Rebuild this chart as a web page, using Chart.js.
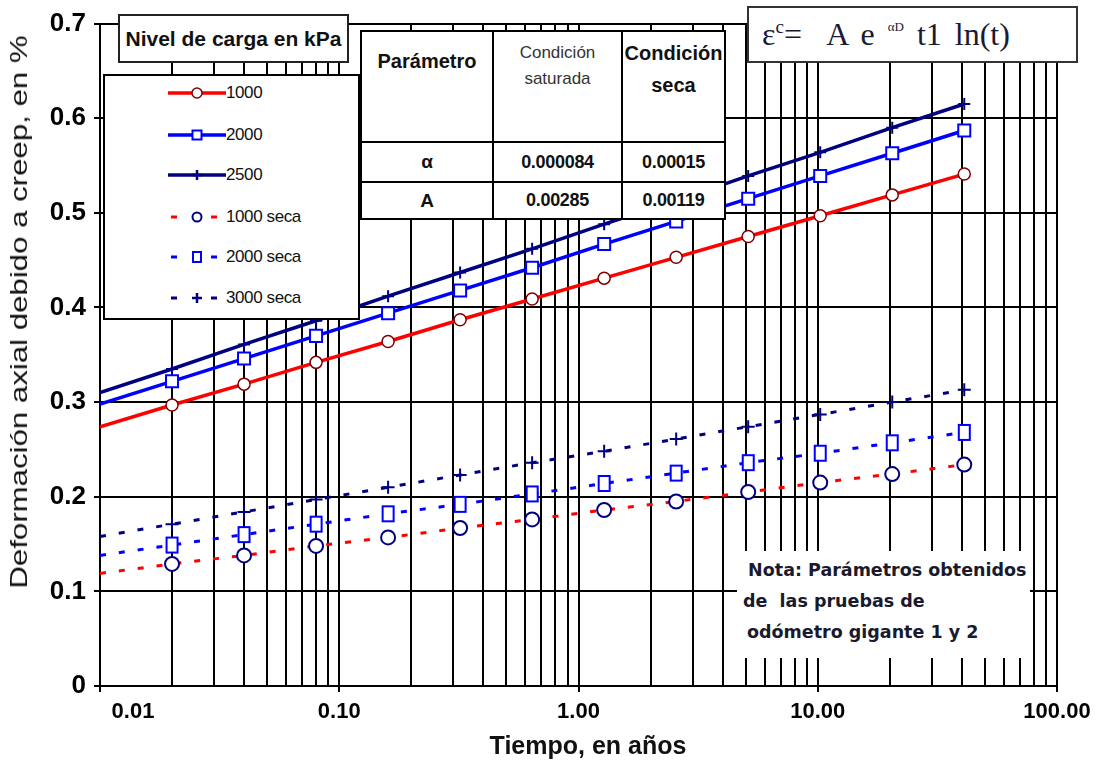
<!DOCTYPE html>
<html lang="es">
<head>
<meta charset="utf-8">
<title>Deformación axial debido a creep</title>
<script src="https://cdn.jsdelivr.net/npm/chart.js@4.4.1/dist/chart.umd.min.js"></script>
<style>
    html, body { margin: 0; padding: 0; background: #fff; }
    #wrap { position: relative; width: 1107px; height: 763px; overflow: hidden; font-family: 'Liberation Sans', Arial, sans-serif; color: #111; }
    #creepChart { position: absolute; left: 0; top: 0; }
    .box { position: absolute; background: #fff; box-sizing: border-box; }

    #yTitle { position: absolute; left: 19px; top: 312px; white-space: nowrap; font-size: 24px; line-height: 24px;
              transform: translate(-50%, -50%) rotate(-90deg) scaleX(1.3); }
    #xTitle { position: absolute; left: 588px; top: 745px; white-space: nowrap; font-size: 25px; font-weight: bold; line-height: 26px;
              transform: translate(-50%, -50%); }

    #legendTitle { left: 118px; top: 14px; width: 231px; height: 49px; border: 2px solid #222;
                   display: flex; align-items: center; justify-content: center; font-weight: bold; font-size: 21px; }
    #legendBox { left: 103px; top: 74px; width: 257px; height: 246px; border: 2px solid #000; }
    .lg-row { position: absolute; left: 63px; height: 20px; display: flex; align-items: center; }
    .lg-row svg { display: block; }
    .lg-row span { font-size: 17px; letter-spacing: -0.4px; white-space: nowrap; }

    #paramTable { left: 360px; top: 30px; border-collapse: collapse; background: #fff; }
    #paramTable td { border: 2px solid #000; text-align: center; padding: 0; }
    #paramTable .hd { vertical-align: top; height: 91px; }
    #paramTable .v { font-weight: bold; font-size: 18px; letter-spacing: -0.3px; }

    #equation { left: 747px; top: 6px; width: 331px; height: 57px; border: 2px solid #333; padding-left: 13px;
                font-family: 'Liberation Serif', 'Times New Roman', serif; font-size: 32px; line-height: 53px; word-spacing: 5px;
                white-space: nowrap; color: #1a1a33; }
    #equation sup { font-size: 19px; line-height: 0; }
    #equation sup.tiny { font-size: 13px; vertical-align: 14px; }

    #note { left: 737px; top: 551px; width: 293px; height: 107px; padding-top: 4px;
            font-family: 'DejaVu Sans', Verdana, sans-serif; font-weight: bold; font-size: 17.5px; line-height: 31px; white-space: pre; color: #1a1a2e; }
</style>
</head>
<body>
<div id="wrap">
    <canvas id="creepChart" width="1107" height="763"></canvas>
    <div id="yTitle">Deformación axial debido a creep, en %</div>
    <div id="xTitle">Tiempo, en años</div>
    <div class="box" id="legendTitle">Nivel de carga en kPa</div>
    <div class="box" id="legendBox"></div>
    <table class="box" id="paramTable"></table>
    <div class="box" id="equation"><span>ε</span><sup>c</sup>=&nbsp; A e <sup class="tiny">αD</sup> t1 ln(t)</div>
    <div class="box" id="note"></div>
</div>

<script>
/* ========================================================================
   Creep: axial strain vs time, saturated and dry loading levels
   ======================================================================== */

// time in years (first value is where the fitted lines start on the axis)
const years   = [0.01, 0.02, 0.04, 0.08, 0.16, 0.32, 0.64, 1.28, 2.56, 5.12, 10.24, 20.48, 40.96];

// strain in %, saturated condition
const sat1000 = [0.274, 0.297, 0.319, 0.342, 0.364, 0.387, 0.409, 0.431, 0.453, 0.475, 0.497, 0.519, 0.541];
const sat2000 = [0.298, 0.322, 0.346, 0.370, 0.394, 0.418, 0.442, 0.467, 0.491, 0.515, 0.539, 0.563, 0.587];
const sat2500 = [0.310, 0.335, 0.361, 0.386, 0.412, 0.437, 0.462, 0.488, 0.513, 0.539, 0.564, 0.590, 0.615];

// strain in %, dry condition
const dry1000 = [0.119, 0.129, 0.138, 0.148, 0.157, 0.167, 0.176, 0.186, 0.195, 0.205, 0.215, 0.224, 0.234];
const dry2000 = [0.138, 0.149, 0.160, 0.171, 0.182, 0.192, 0.203, 0.214, 0.225, 0.236, 0.246, 0.257, 0.268];
const dry3000 = [0.158, 0.171, 0.184, 0.197, 0.210, 0.223, 0.236, 0.248, 0.261, 0.274, 0.287, 0.300, 0.313];

const legendLabels = ['1000', '2000', '2500', '1000 seca', '2000 seca', '3000 seca'];

const xMajorTicks = [0.01, 0.1, 1, 10, 100];
const xTickLabels = ['0.01', '0.10', '1.00', '10.00', '100.00'];
const yTickLabels = ['0', '0.1', '0.2', '0.3', '0.4', '0.5', '0.6', '0.7'];

const tableHead = ['Parámetro', 'Condición<br>saturada', 'Condición<br>seca'];
const tableRows = [
    ['α', '0.000084', '0.00015'],
    ['A', '0.00285', '0.00119']
];

const noteLines = [' Nota: Parámetros obtenidos', 'de  las pruebas de', 'odómetro gigante 1 y 2'];

const RED = '#ff0000', BLUE = '#0000ff', NAVY = '#000080', DARKRED = '#800000';
const TICK_FONT = { family: "'Liberation Sans', Arial, sans-serif", size: 22, weight: 'bold' };

document.addEventListener('DOMContentLoaded', () => {
    renderLegend();
    renderTable();
    renderNote();
    renderChart();
});

// tall open box used for the dry 2000 kPa points
function boxMarker(w, h, color, lw) {
    const c = document.createElement('canvas');
    c.width = w + lw * 2;
    c.height = h + lw * 2;
    const g = c.getContext('2d');
    g.fillStyle = '#fff';
    g.fillRect(lw, lw, w, h);
    g.strokeStyle = color;
    g.lineWidth = lw;
    g.strokeRect(lw, lw, w, h);
    return c;
}

const seriesStyle = [
    { data: sat1000, color: RED,  dash: [],      width: 3.5, marker: 'circle', r: 6,   mColor: DARKRED, mWidth: 1.5 },
    { data: sat2000, color: BLUE, dash: [],      width: 3.5, marker: 'rect',   r: 8.5, mColor: BLUE,    mWidth: 2 },
    { data: sat2500, color: NAVY, dash: [],      width: 3.5, marker: 'cross',  r: 6,   mColor: NAVY,    mWidth: 2 },
    { data: dry1000, color: RED,  dash: [6, 13], width: 3,   marker: 'circle', r: 7,   mColor: NAVY,    mWidth: 2 },
    { data: dry2000, color: BLUE, dash: [6, 13], width: 3,   marker: 'tallbox', r: 8,  mColor: BLUE,    mWidth: 2 },
    { data: dry3000, color: NAVY, dash: [6, 13], width: 3,   marker: 'cross',  r: 6.5, mColor: NAVY,    mWidth: 2 }
];

function renderChart() {
    const ctx = document.getElementById('creepChart');
    const gridTicks = [];
    [0.01, 0.1, 1, 10].forEach(d => { for (let k = 1; k <= 9; k++) gridTicks.push(k === 1 ? d : k * d); });
    gridTicks.push(100);

    const datasets = seriesStyle.map((s, i) => ({
        label: legendLabels[i],
        data: years.map((t, j) => ({ x: t, y: s.data[j] })),
        borderColor: s.color,
        borderWidth: s.width,
        borderDash: s.dash,
        borderCapStyle: 'butt',
        pointStyle: s.marker === 'tallbox' ? boxMarker(11, 15, s.mColor, 2) : s.marker,
        pointRadius: c => c.dataIndex === 0 ? 0 : s.r,
        pointBorderColor: s.mColor,
        pointBackgroundColor: '#fff',
        pointBorderWidth: s.mWidth,
        tension: 0
    }));

    // the first time label sits to the right of its gridline
    const firstLabel = {
        id: 'firstLabel',
        afterDraw(chart) {
            const x = chart.scales.x;
            const g = chart.ctx;
            g.save();
            g.font = `${TICK_FONT.weight} ${TICK_FONT.size}px ${TICK_FONT.family}`;
            g.fillStyle = '#000';
            g.textAlign = 'center';
            g.textBaseline = 'middle';
            g.fillText(xTickLabels[0], x.getPixelForValue(xMajorTicks[0]) + 33, x.top + 6 + 7 + TICK_FONT.size * 1.2 / 2);
            g.restore();
        }
    };

    new Chart(ctx, {
        type: 'line',
        data: { datasets },
        plugins: [firstLabel],
        options: {
            responsive: false, animation: false,
            layout: { padding: { left: 0, top: 18, right: 50, bottom: 0 } },
            plugins: { legend: { display: false }, tooltip: { enabled: false } },
            scales: {
                x: {
                    type: 'logarithmic', min: 0.01, max: 100,
                    afterFit: s => { s.height = 77; },
                    afterBuildTicks: s => { s.ticks = gridTicks.map(v => ({ value: v })); },
                    grid: {
                        color: '#000', lineWidth: 2, tickLength: 6,
                        tickColor: c => xMajorTicks.includes(c.tick && c.tick.value) ? '#000' : 'rgba(0,0,0,0)'
                    },
                    border: { color: '#000', width: 2 },
                    ticks: {
                        autoSkip: false, maxRotation: 0, padding: 7, color: '#000', font: TICK_FONT,
                        callback: v => { const i = xMajorTicks.indexOf(v); return i > 0 ? xTickLabels[i] : ''; }
                    }
                },
                y: {
                    min: 0, max: 0.7,
                    afterFit: s => { s.width = 100; },
                    grid: { color: '#000', lineWidth: 2, tickLength: 6, tickColor: '#000' },
                    border: { color: '#000', width: 2 },
                    ticks: { stepSize: 0.1, padding: 8, color: '#000', font: { ...TICK_FONT, size: 26 }, callback: (v, i) => yTickLabels[i] }
                }
            }
        }
    });
}

function legendSample(s) {
    const cy = 10, mx = 29;
    let line;
    if (s.dash.length) {
        line = `<line x1="3" y1="${cy}" x2="9" y2="${cy}" stroke="${s.color}" stroke-width="3"/>` +
               `<line x1="43" y1="${cy}" x2="49" y2="${cy}" stroke="${s.color}" stroke-width="3"/>`;
    } else {
        line = `<line x1="0" y1="${cy}" x2="58" y2="${cy}" stroke="${s.color}" stroke-width="3.5"/>`;
    }
    let mark;
    if (s.marker === 'circle') {
        const r = s.dash.length ? 4.5 : 5;
        mark = `<circle cx="${mx}" cy="${cy}" r="${r}" fill="#fff" stroke="${s.mColor}" stroke-width="${s.mWidth}"/>`;
    } else if (s.marker === 'rect') {
        mark = `<rect x="${mx - 4.5}" y="${cy - 4.5}" width="9" height="9" fill="#fff" stroke="${s.mColor}" stroke-width="2"/>`;
    } else if (s.marker === 'tallbox') {
        mark = `<rect x="${mx - 4}" y="${cy - 5}" width="8" height="10" fill="#fff" stroke="${s.mColor}" stroke-width="2"/>`;
    } else {
        mark = `<path d="M${mx} ${cy - 5}v10M${mx - 5} ${cy}h10" stroke="${s.mColor}" stroke-width="2.5" fill="none"/>`;
    }
    return `<svg width="58" height="20" viewBox="0 0 58 20">${line}${mark}</svg>`;
}

function renderLegend() {
    const box = document.getElementById('legendBox');
    const rowY = [93, 135, 175, 217, 257, 298];
    box.innerHTML = seriesStyle.map((s, i) =>
        `<div class="lg-row" style="top:${rowY[i] - 76 - 10}px">${legendSample(s)}<span>${legendLabels[i]}</span></div>`
    ).join('');
}

function renderTable() {
    const t = document.getElementById('paramTable');
    const head = `<tr>
        <td class="hd" style="width:130px;font-weight:bold;font-size:20px;padding-top:18px;">${tableHead[0]}</td>
        <td class="hd" style="width:127px;font-size:17px;line-height:26px;padding-top:8px;color:#333;">${tableHead[1]}</td>
        <td class="hd" style="width:101px;font-weight:bold;font-size:20px;line-height:32px;padding-top:5px;">${tableHead[2]}</td>
    </tr>`;
    const heights = [40, 37];
    const body = tableRows.map((r, i) => `<tr style="height:${heights[i]}px">` +
        r.map((c, j) => `<td class="v"${j === 0 ? ' style="font-size:19px"' : ''}>${c}</td>`).join('') + '</tr>').join('');
    t.innerHTML = head + body;
}

function renderNote() {
    const pads = [5, 6, 10];
    document.getElementById('note').innerHTML = noteLines.map((l, i) => `<div style="padding-left:${pads[i]}px">${l}</div>`).join('');
}
</script>
</body>
</html>
